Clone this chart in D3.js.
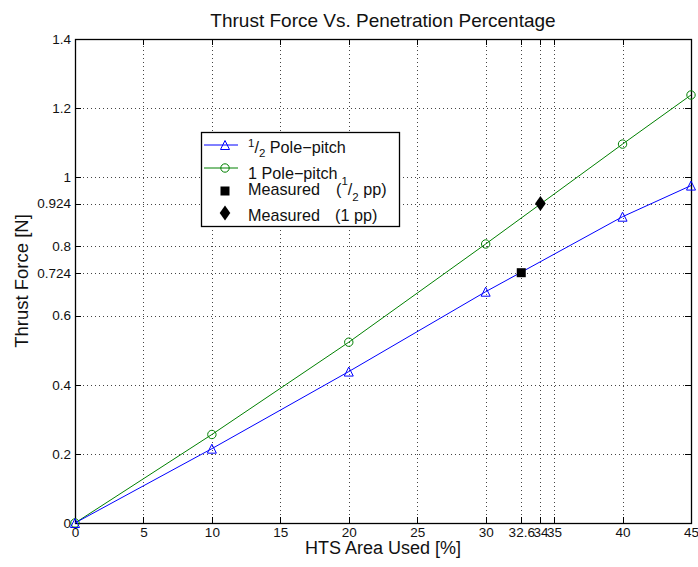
<!DOCTYPE html>
<html>
<head>
<meta charset="utf-8">
<script src="https://cdn.jsdelivr.net/npm/d3@7"></script>
<style>
  html, body { margin: 0; padding: 0; background: #fff; }
  svg { display: block; font-family: "Liberation Sans", Arial, Helvetica, sans-serif; }
  .grid line { stroke: #444; stroke-width: 1; stroke-dasharray: 1,3; shape-rendering: crispEdges; }
  .grid path { display: none; }
  .ax path, .ax line { stroke: #000; stroke-width: 1; shape-rendering: crispEdges; }
  .ax text { font-size: 13.5px; fill: #111; }
</style>
</head>
<body>
<svg id="chart" width="698" height="567"></svg>
<script>
// Penetration percentage of the HTS area
const areaUsed = [0, 10, 20, 30, 40, 45];
// Simulated thrust force for half and full pole-pitch
const halfPitchForce = [0, 0.215, 0.438, 0.669, 0.886, 0.976];
const onePitchForce  = [0, 0.256, 0.523, 0.807, 1.096, 1.238];
// Measured points
const measuredHalfX = [32.6];
const measuredHalfY = [0.724];
const measuredOneX  = [34];
const measuredOneY  = [0.924];
// Axis ticks
const xTicks = [0, 5, 10, 15, 20, 25, 30, 32.6, 34, 35, 40, 45];
const xTickLabels = ["0", "5", "10", "15", "20", "25", "30", "32.6", "34", "35", "40", "45"];
const yTicks = [0, 0.2, 0.4, 0.6, 0.724, 0.8, 0.924, 1, 1.2, 1.4];
const yTickLabels = ["0", "0.2", "0.4", "0.6", "0.724", "0.8", "0.924", "1", "1.2", "1.4"];

const svg = d3.select("#chart");
const m = { left: 75, top: 39, right: 7, bottom: 44 };
const W = 698 - m.left - m.right;
const H = 567 - m.top - m.bottom;

const x = d3.scaleLinear().domain([0, 45]).range([0, W]);
const y = d3.scaleLinear().domain([0, 1.4]).range([H, 0]);

const g = svg.append("g").attr("transform", `translate(${m.left},${m.top})`);

// dotted grid
g.append("g").attr("class", "grid")
  .attr("transform", `translate(0,${H})`)
  .call(d3.axisBottom(x).tickValues(xTicks).tickSize(-H).tickFormat(""));
g.append("g").attr("class", "grid")
  .call(d3.axisLeft(y).tickValues(yTicks).tickSize(-W).tickFormat(""));

// axes with inward ticks
const tl = 6;
g.append("g").attr("class", "ax")
  .attr("transform", `translate(0,${H})`)
  .call(d3.axisBottom(x).tickValues(xTicks).tickSizeInner(-tl).tickSizeOuter(0).tickPadding(4)
    .tickFormat((d, i) => xTickLabels[i]));
g.append("g").attr("class", "ax")
  .call(d3.axisTop(x).tickValues(xTicks).tickSizeInner(-tl).tickSizeOuter(0).tickFormat(""));
g.append("g").attr("class", "ax")
  .call(d3.axisLeft(y).tickValues(yTicks).tickSizeInner(-tl).tickSizeOuter(0).tickPadding(4)
    .tickFormat((d, i) => yTickLabels[i]));
g.append("g").attr("class", "ax")
  .attr("transform", `translate(${W},0)`)
  .call(d3.axisRight(y).tickValues(yTicks).tickSizeInner(-tl).tickSizeOuter(0).tickFormat(""));

// frame
g.append("rect").attr("x", 0.5).attr("y", 0.5).attr("width", W).attr("height", H)
  .attr("fill", "none").attr("stroke", "#000").attr("stroke-width", 1.3);

const line = d3.line().x(d => x(d[0])).y(d => y(d[1]));
const halfPts = areaUsed.map((v, i) => [v, halfPitchForce[i]]);
const onePts = areaUsed.map((v, i) => [v, onePitchForce[i]]);

const blue = "#0000ff", green = "#008000";

function triangle(sel, cx, cy, s, color) {
  sel.append("path")
    .attr("d", `M${cx},${cy - s}L${cx + s},${cy + s}L${cx - s},${cy + s}Z`)
    .attr("fill", "none").attr("stroke", color).attr("stroke-width", 1);
}
function circle(sel, cx, cy, r, color) {
  sel.append("circle").attr("cx", cx).attr("cy", cy).attr("r", r)
    .attr("fill", "none").attr("stroke", color).attr("stroke-width", 1);
}
function square(sel, cx, cy, s) {
  sel.append("rect").attr("x", cx - s).attr("y", cy - s).attr("width", 2 * s).attr("height", 2 * s)
    .attr("fill", "#000");
}
function diamond(sel, cx, cy, w, h) {
  sel.append("path").attr("d", `M${cx},${cy - h}L${cx + w},${cy}L${cx},${cy + h}L${cx - w},${cy}Z`)
    .attr("fill", "#000");
}

g.append("path").datum(onePts).attr("d", line).attr("fill", "none").attr("stroke", green).attr("stroke-width", 1);
g.append("path").datum(halfPts).attr("d", line).attr("fill", "none").attr("stroke", blue).attr("stroke-width", 1);
onePts.forEach(p => circle(g, x(p[0]), y(p[1]), 4.2, green));
halfPts.forEach(p => triangle(g, x(p[0]), y(p[1]), 4.5, blue));
measuredHalfX.forEach((v, i) => square(g, x(v), y(measuredHalfY[i]), 4.5));
measuredOneX.forEach((v, i) => diamond(g, x(v), y(measuredOneY[i]), 5.3, 7.5));

// titles
svg.append("text").attr("x", m.left + W / 2).attr("y", 27).attr("text-anchor", "middle")
  .attr("font-size", 19).attr("fill", "#111").text("Thrust Force Vs. Penetration Percentage");
svg.append("text").attr("x", m.left + W / 2).attr("y", 554).attr("text-anchor", "middle")
  .attr("font-size", 18).attr("fill", "#111").text("HTS Area Used [%]");
svg.append("text").attr("transform", `translate(28,${m.top + H / 2}) rotate(-90)`).attr("text-anchor", "middle")
  .attr("font-size", 18.5).attr("fill", "#111").text("Thrust Force [N]");

// legend
const lg = svg.append("g");
lg.append("rect").attr("x", 201.5).attr("y", 132.5).attr("width", 198).attr("height", 94)
  .attr("fill", "#fff").attr("stroke", "#000").attr("stroke-width", 1.3);
const fs = 16.2, small = 11.5;
lg.append("line").attr("x1", 204).attr("x2", 238).attr("y1", 145).attr("y2", 145).attr("stroke", blue);
triangle(lg, 225, 145, 4.5, blue);
lg.append("line").attr("x1", 204).attr("x2", 238).attr("y1", 168).attr("y2", 168).attr("stroke", green);
circle(lg, 225, 168, 4.2, green);
square(lg, 225, 191, 4.5);
diamond(lg, 225, 213, 5.3, 7.5);

const t1 = lg.append("text").attr("x", 248).attr("y", 153).attr("font-size", fs).attr("fill", "#111");
t1.append("tspan").attr("font-size", small).attr("dy", -6).text("1");
t1.append("tspan").attr("dy", 6).text("/");
t1.append("tspan").attr("font-size", small).attr("dy", 4).text("2");
t1.append("tspan").attr("dy", -4).text(" Pole\u2212pitch");

lg.append("text").attr("x", 248).attr("y", 179).attr("font-size", fs).attr("fill", "#111").text("1 Pole\u2212pitch");

lg.append("text").attr("x", 248).attr("y", 195).attr("font-size", fs).attr("fill", "#111").text("Measured");
const t3 = lg.append("text").attr("x", 336).attr("y", 195).attr("font-size", fs).attr("fill", "#111");
t3.append("tspan").text("(");
t3.append("tspan").attr("font-size", small).attr("dy", -10).text("1");
t3.append("tspan").attr("dy", 10).text("/");
t3.append("tspan").attr("font-size", small).attr("dy", 6).text("2");
t3.append("tspan").attr("dy", -6).text(" pp)");

lg.append("text").attr("x", 248).attr("y", 221).attr("font-size", fs).attr("fill", "#111").text("Measured");
lg.append("text").attr("x", 335).attr("y", 221).attr("font-size", fs).attr("fill", "#111").text("(1 pp)");
</script>
</body>
</html>
